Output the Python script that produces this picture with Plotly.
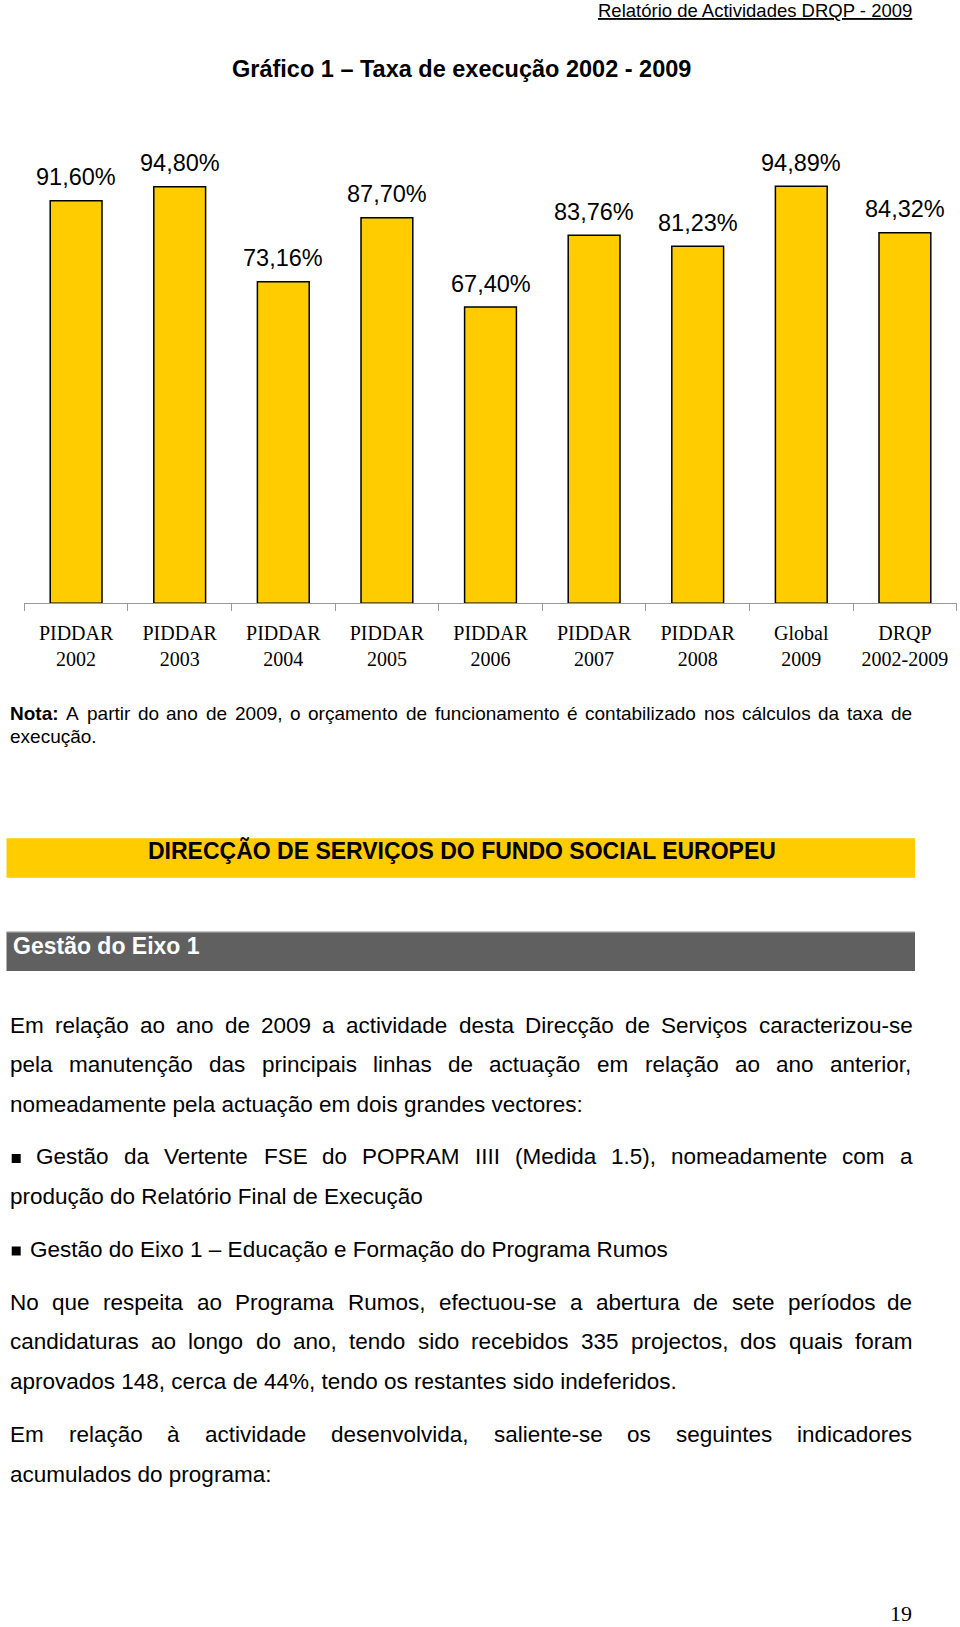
import unicodedata
import plotly.graph_objects as go

W, H = 960, 1627

# ---------------- data ----------------
categories = ["PIDDAR<br>2002", "PIDDAR<br>2003", "PIDDAR<br>2004", "PIDDAR<br>2005",
              "PIDDAR<br>2006", "PIDDAR<br>2007", "PIDDAR<br>2008", "Global<br>2009",
              "DRQP<br>2002-2009"]
rates = [91.60, 94.80, 73.16, 87.70, 67.40, 83.76, 81.23, 94.89, 84.32]
rate_labels = [f"{v:.2f}".replace(".", ",") + "%" for v in rates]

header_text = "Relatório de Actividades DRQP - 2009"
title_text = "Gráfico 1 – Taxa de execução 2002 - 2009"
note_line1 = "Nota: A partir do ano de 2009, o orçamento de funcionamento é contabilizado nos cálculos da taxa de"
note_line2 = "execução."
banner1 = "DIRECÇÃO DE SERVIÇOS DO FUNDO SOCIAL EUROPEU"
banner2 = "Gestão do Eixo 1"
body_lines = [
    ("Em relação ao ano de 2009 a actividade desta Direcção de Serviços caracterizou-se", True, False),
    ("pela manutenção das principais linhas de actuação em relação ao ano anterior,", True, False),
    ("nomeadamente pela actuação em dois grandes vectores:", False, False),
    ("Gestão da Vertente FSE do POPRAM IIII (Medida 1.5), nomeadamente com a", True, True),
    ("produção do Relatório Final de Execução", False, False),
    ("Gestão do Eixo 1 – Educação e Formação do Programa Rumos", False, True),
    ("No que respeita ao Programa Rumos, efectuou-se a abertura de sete períodos de", True, False),
    ("candidaturas ao longo do ano, tendo sido recebidos 335 projectos, dos quais foram", True, False),
    ("aprovados 148, cerca de 44%, tendo os restantes sido indeferidos.", False, False),
    ("Em relação à actividade desenvolvida, saliente-se os seguintes indicadores", True, False),
    ("acumulados do programa:", False, False),
]
body_baselines = [1033, 1072.5, 1112, 1164.5, 1204, 1257, 1310, 1349.5, 1389.5, 1442.5, 1482]
page_number = "19"

# ---------------- font metrics (Arial / Liberation Sans) ----------------
REG = {' ': 278, '!': 278, '%': 889, '(': 333, ')': 333, ',': 278, '-': 333, '.': 278,
       ':': 278, ';': 278, '–': 556,
       'A': 667, 'B': 667, 'C': 722, 'D': 722, 'E': 667, 'F': 611, 'G': 778, 'H': 722,
       'I': 278, 'J': 500, 'K': 667, 'L': 556, 'M': 833, 'N': 722, 'O': 778, 'P': 667,
       'Q': 778, 'R': 722, 'S': 667, 'T': 611, 'U': 722, 'V': 667, 'W': 944, 'X': 667,
       'Y': 667, 'Z': 611,
       'a': 556, 'b': 556, 'c': 500, 'd': 556, 'e': 556, 'f': 278, 'g': 556, 'h': 556,
       'i': 222, 'j': 222, 'k': 500, 'l': 222, 'm': 833, 'n': 556, 'o': 556, 'p': 556,
       'q': 556, 'r': 333, 's': 500, 't': 278, 'u': 556, 'v': 500, 'w': 722, 'x': 500,
       'y': 500, 'z': 500}
BOLD = {' ': 278, ',': 278, '.': 278, ':': 333, '-': 333, 'N': 722, 'o': 611, 't': 333,
        'a': 556}


def tw(s, size, bold=False):
    table = BOLD if bold else REG
    total = 0
    for ch in s:
        if ch.isdigit():
            total += 556
            continue
        base = unicodedata.normalize("NFD", ch)[0]
        total += table.get(ch, table.get(base, REG.get(base, 556)))
    return total * size / 1000.0


def px(x):
    return x / W


def py(y):
    return 1 - y / H


annotations = []
shapes = []

SANS = "Liberation Sans, Arial, sans-serif"
SERIF = "Liberation Serif, Times New Roman, serif"


def add_text(text, x, baseline, size, family=SANS, color="black", xanchor="left", asc=0.212):
    annotations.append(dict(
        text=text, xref="paper", yref="paper", x=px(x), y=py(baseline + asc * size),
        xanchor=xanchor, yanchor="bottom", showarrow=False, borderpad=0, borderwidth=0,
        font=dict(family=family, size=size, color=color)))


def add_justified(words, x0, x1, baseline, size, bold_first=False):
    widths = [tw(w, size, bold=(bold_first and i == 0)) for i, w in enumerate(words)]
    gap = (x1 - x0 - sum(widths)) / (len(words) - 1)
    x = x0
    for i, w in enumerate(words):
        t = f"<b>{w}</b>" if (bold_first and i == 0) else w
        add_text(t, x, baseline, size)
        x += widths[i] + gap


# ---------------- chart ----------------
fig = go.Figure()
fig.add_trace(go.Bar(
    x=categories, y=rates, width=0.5,
    marker=dict(color="#FFCC00", line=dict(color="black", width=1.5)),
    hoverinfo="skip", showlegend=False))

for c, v, lab in zip(categories, rates, rate_labels):
    annotations.append(dict(
        text=lab, x=c, y=v, xref="x", yref="y", yanchor="bottom", yshift=10.5,
        showarrow=False, borderpad=0, borderwidth=0,
        font=dict(family=SANS, size=23.5, color="black")))

# ---------------- page text ----------------
add_text(f"<u>{header_text}</u>", 912, 17.5, 18.5, xanchor="right")
add_text(f"<b>{title_text}</b>", 461, 77.5, 23.5, xanchor="center")

add_justified(note_line1.split(" "), 10, 912, 720, 19, bold_first=True)
add_text(note_line2, 10, 742.7, 19)

# banners
shapes.append(dict(type="rect", xref="paper", yref="paper", x0=px(6.5), x1=px(915),
                   y0=py(877.7), y1=py(838.3), fillcolor="#FFCC00", line=dict(width=0),
                   layer="below"))
shapes.append(dict(type="rect", xref="paper", yref="paper", x0=px(6.5), x1=px(915),
                   y0=py(971), y1=py(931.7), fillcolor="#606060", line=dict(width=0),
                   layer="below"))
shapes.append(dict(type="line", xref="paper", yref="paper", x0=px(6.5), x1=px(915),
                   y0=py(932), y1=py(932), line=dict(color="#b5b5b5", width=1)))
add_text(f"<b>{banner1}</b>", 462, 859.3, 23, xanchor="center")
add_text(f"<b>{banner2}</b>", 13, 954, 23, color="white")

# body
for (line, just, bullet), base in zip(body_lines, body_baselines):
    x0 = 10
    if bullet:
        shapes.append(dict(type="rect", xref="paper", yref="paper", x0=px(11.7), x1=px(20.7),
                           y0=py(base - 1.5), y1=py(base - 10.5), fillcolor="black",
                           line=dict(width=0)))
        x0 = 36 if just else 30
    if just:
        add_justified(line.split(" "), x0, 912.5, base, 22.5)
    else:
        add_text(line, x0, base, 22.5)

add_text(page_number, 912, 1621.7, 22, family=SERIF, xanchor="right", asc=0.216)

fig.update_layout(
    width=W, height=H, margin=dict(l=0, r=0, t=0, b=0),
    paper_bgcolor="white", plot_bgcolor="white",
    annotations=annotations, shapes=shapes,
    bargap=0.5,
    xaxis=dict(domain=[24.3 / W, 956.7 / W], type="category", tickson="boundaries",
               ticks="outside", ticklen=7, tickcolor="#9a9a9a", tickwidth=1,
               showline=True, linecolor="#9a9a9a", linewidth=1, showgrid=False,
               ticklabelstandoff=12,
               tickfont=dict(family=SERIF, size=20, color="black"), fixedrange=True),
    yaxis=dict(domain=[py(603.3), py(163.8)], range=[0, 100], visible=False,
               showgrid=False, zeroline=False, fixedrange=True),
)

fig.write_html("out.html")
